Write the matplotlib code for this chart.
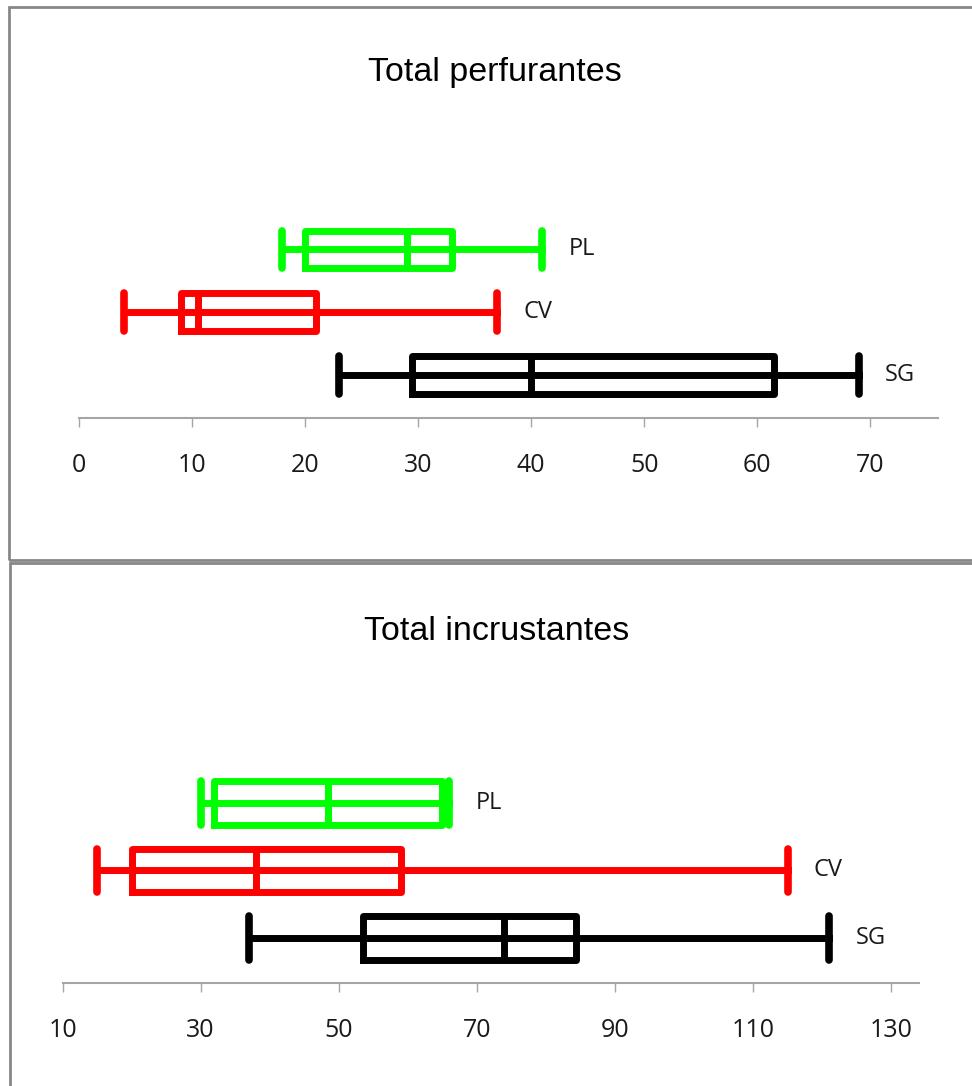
import matplotlib.pyplot as plt
from matplotlib import font_manager
from matplotlib.patches import Rectangle

# series order bottom -> top
groups = ['SG', 'CV', 'PL']
colors = ['#000000', '#ff0000', '#00ff00']

# Total perfurantes
perf_low = [23, 4, 18]
perf_q1 = [29.5, 9, 20]
perf_med = [40, 10.5, 29]
perf_q3 = [61.5, 21, 33]
perf_high = [69, 37, 41]
perf_ticks = [0, 10, 20, 30, 40, 50, 60, 70]

# Total incrustantes
inc_low = [37, 15, 30]
inc_q1 = [53.5, 20, 32]
inc_med = [74, 38, 48.4]
inc_q3 = [84.3, 59, 64.9]
inc_high = [121, 115, 66]
inc_ticks = [10, 30, 50, 70, 90, 110, 130]

names = {f.name for f in font_manager.fontManager.ttflist}
narrow = 'Liberation Sans Narrow' if 'Liberation Sans Narrow' in names else 'Open Sans'

W, H = 972, 1086
fig = plt.figure(figsize=(W / 100, H / 100), dpi=100)


def px(x0, top, x1, bottom):
    # pixel box (from top-left) -> figure fraction rect
    return [x0 / W, 1 - bottom / H, (x1 - x0) / W, (bottom - top) / H]


def panel(rect, xlim, ylim, ticks, low, q1, med, q3, high, width):
    ax = fig.add_axes(rect)
    for i, g in enumerate(groups):
        pos = i + 1
        c = colors[i]
        st = [dict(med=med[i], q1=q1[i], q3=q3[i], whislo=low[i], whishi=high[i], label=g)]
        lp = dict(color=c, linewidth=5)
        ax.bxp(st, positions=[pos], widths=width, capwidths=width, orientation='horizontal',
               showfliers=False, boxprops=lp, whiskerprops=lp, medianprops=lp,
               capprops=dict(color=c, linewidth=5.5, solid_capstyle='round'))
        # line through the middle of the box
        ax.plot([q1[i], q3[i]], [pos, pos], color=c, linewidth=5)
        ax.annotate(g, (high[i], pos), xytext=(19, 0), textcoords='offset points',
                    ha='left', va='center', fontsize=17, family=narrow, color='#1a1a1a')
    ax.set_xlim(*xlim)
    ax.set_ylim(*ylim)
    ax.set_xticks(ticks)
    ax.set_xticklabels([str(t) for t in ticks], family=narrow, fontsize=18, color='#1a1a1a')
    ax.set_yticks([])
    for s in ['top', 'right', 'left']:
        ax.spines[s].set_visible(False)
    ax.spines['bottom'].set_color('#a6a6a6')
    ax.spines['bottom'].set_linewidth(1.5)
    ax.tick_params(axis='x', direction='out', length=6.5, width=1, color='#a6a6a6', pad=19)
    ax.patch.set_visible(False)
    return ax


panel(px(79, 200, 938, 418), (0, 76), (0.317, 3.78), perf_ticks,
      perf_low, perf_q1, perf_med, perf_q3, perf_high, 0.59)
panel(px(62.6, 750, 918.7, 983), (10, 134), (0.333, 3.785), inc_ticks,
      inc_low, inc_q1, inc_med, inc_q3, inc_high, 0.64)

fig.text(495 / W, 1 - 72 / H, 'Total perfurantes', ha='center', va='center',
         fontsize=24.5, family='Liberation Sans')
fig.text(497 / W, 1 - 632 / H, 'Total incrustantes', ha='center', va='center',
         fontsize=24.5, family='Liberation Sans')

# panel borders
fig.add_artist(Rectangle((9 / W, 1 - 560 / H), 1.1, (560 - 7) / H, transform=fig.transFigure,
                         fill=False, edgecolor='#878787', linewidth=2))
fig.add_artist(Rectangle((10 / W, -0.05), 1.1, 1 - 563 / H + 0.05, transform=fig.transFigure,
                         fill=False, edgecolor='#878787', linewidth=2))

fig.savefig('out.png', dpi=100)
